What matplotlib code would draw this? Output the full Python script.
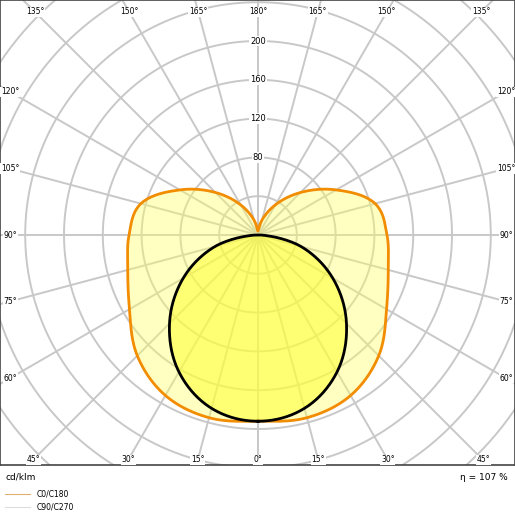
import numpy as np
import matplotlib
matplotlib.use("Agg")
import matplotlib.pyplot as plt

# luminous intensity, cd/klm, gamma 0..180 deg (symmetric both sides)
gamma = [0, 15, 30, 45, 60, 75, 90, 105, 120, 135, 150, 165, 180]
c0_c180 = [192, 195, 191, 176, 153, 139, 133, 125, 93, 62, 36, 16, 4]
gamma_c90 = [0, 15, 30, 45, 60, 75, 90]
c90_c270 = [192, 185, 163, 129, 89, 46, 3]

ring_values = list(range(40, 400, 40))
ring_labels = [80, 120, 160, 200]
top_angles = [135, 150, 165, 180, 165, 150, 135]
bottom_angles = [45, 30, 15, 0, 15, 30, 45]
side_angles = [120, 105, 90, 75, 60]
efficiency = "η = 107 %"

GRID = "#c8c8c8"


def catmull(g, r, n=20):
    # Catmull-Rom through the samples, ends mirrored (curve is symmetric)
    p = np.concatenate([[r[1]], r, [r[-2]]]).astype(float)
    gs, rs = [], []
    for i in range(1, len(p) - 2):
        u = np.linspace(0, 1, n, endpoint=False)
        p0, p1, p2, p3 = p[i - 1], p[i], p[i + 1], p[i + 2]
        rs.append(0.5 * (2 * p1 + (-p0 + p2) * u + (2 * p0 - 5 * p1 + 4 * p2 - p3) * u ** 2
                         + (-p0 + 3 * p1 - 3 * p2 + p3) * u ** 3))
        gs.append(g[i - 1] + (g[i] - g[i - 1]) * u)
    gs.append([g[-1]])
    rs.append([r[-1]])
    return np.concatenate(gs), np.concatenate(rs)


def to_xy(g, r):
    g = np.radians(np.asarray(g, float))
    r = np.asarray(r, float)
    x = r * np.sin(g)
    y = -r * np.cos(g)
    xs = np.concatenate([x, -x[::-1]])
    ys = np.concatenate([y, y[::-1]])
    return xs, ys


fig = plt.figure(figsize=(5.15, 5.15), dpi=100)
ax = fig.add_axes([0, 1 - 465 / 515, 1, 465 / 515])
sc = 0.97
ax.set_xlim(-258 / sc, 257 / sc)
ax.set_ylim(-230 / sc, 235 / sc)
ax.set_xticks([])
ax.set_yticks([])
for s in ax.spines.values():
    s.set_color("#444444")
    s.set_linewidth(1.2)

t = np.linspace(0, 2 * np.pi, 400)
for rv in ring_values:
    ax.plot(rv * np.cos(t), rv * np.sin(t), color=GRID, lw=1.4, zorder=1)
for a in range(0, 180, 15):
    ar = np.radians(a)
    ax.plot([-500 * np.sin(ar), 500 * np.sin(ar)], [500 * np.cos(ar), -500 * np.cos(ar)],
            color=GRID, lw=1.4, zorder=1)

x1, y1 = to_xy(*catmull(gamma, c0_c180))
x2, y2 = to_xy(*catmull(gamma_c90, c90_c270))

ax.fill(x1, y1, color="#ffff66", alpha=0.4, lw=0, zorder=2)
ax.fill(x2, y2, color="#ffff33", alpha=0.55, lw=0, zorder=2)
ax.plot(x1, y1, color="#f28c00", lw=2, zorder=3)
ax.plot(x2, y2, color="black", lw=2, zorder=4)

box = dict(facecolor="white", edgecolor="none", pad=0.5)
for rv in ring_labels:
    ax.text(0, rv, str(rv), fontsize=6, ha="center", va="center", bbox=box, zorder=5)

top_y, bot_y = 223 / sc, -225 / sc
for lab in set(top_angles):
    dx = top_y * np.tan(np.radians(180 - lab))
    for sgn in ([1] if lab == 180 else [-1, 1]):
        ax.text(sgn * dx, top_y, f"{lab}°", fontsize=5.5, ha="center", va="center",
                bbox=box, zorder=5)
for lab in set(bottom_angles):
    dx = -bot_y * np.tan(np.radians(lab))
    for sgn in ([1] if lab == 0 else [-1, 1]):
        ax.text(sgn * dx, bot_y, f"{lab}°", fontsize=5.5, ha="center", va="center",
                bbox=box, zorder=5)
side_x = 248 / sc
for lab in side_angles:
    yy = -side_x / np.tan(np.radians(lab)) if lab != 90 else 0
    for xx in (-side_x, side_x):
        ax.text(xx, yy, f"{lab}°", fontsize=5.5, ha="center", va="center",
                bbox=box, zorder=5)

fig.text(5 / 515, 1 - 477 / 515, "cd/klm", fontsize=6.5, va="center")
fig.text(508 / 515, 1 - 477 / 515, efficiency, fontsize=6.5, va="center", ha="right")
fig.add_artist(plt.Line2D([5 / 515, 30 / 515], [1 - 494 / 515] * 2, color="#e0b070", lw=0.8))
fig.add_artist(plt.Line2D([5 / 515, 30 / 515], [1 - 507 / 515] * 2, color="#dddddd", lw=0.8))
fig.text(37 / 515, 1 - 494 / 515, "C0/C180", fontsize=5.5, va="center")
fig.text(37 / 515, 1 - 507 / 515, "C90/C270", fontsize=5.5, va="center")

fig.savefig("out.png")
